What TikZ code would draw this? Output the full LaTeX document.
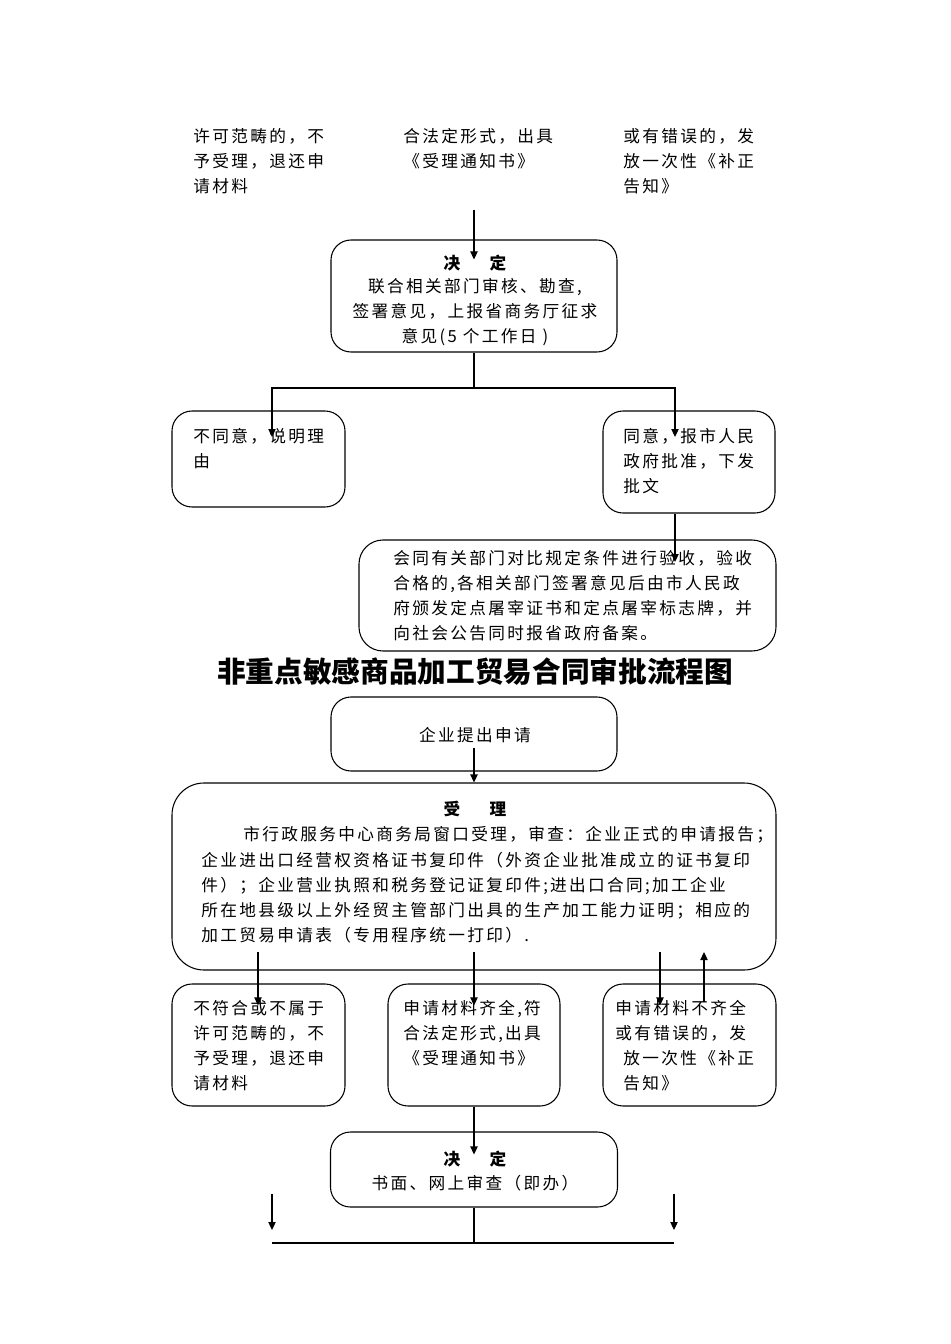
\documentclass[tikz,border=0pt]{standalone}
\usepackage{fontspec}
\usetikzlibrary{arrows.meta,calc}
\newfontfamily\cjk[LetterSpace=14]{Noto Sans CJK SC}
\newfontfamily\cjkt{Noto Sans CJK SC}
\newcommand\bodyfont{\cjk\fontsize{12.5}{18.75}\selectfont}
\newcommand\headfont{\cjkt\bfseries\fontsize{12.5}{18.75}\selectfont}
\tikzset{
  box/.style={draw, line width=0.8pt, rounded corners=15pt, inner sep=0pt},
  txt/.style={inner sep=0pt, align=left, anchor=north west, font=\bodyfont},
  ctxt/.style={inner sep=0pt, align=center, anchor=north, font=\bodyfont},
  hd/.style={inner sep=0pt, anchor=north, font=\headfont},
  arr/.style={line width=0.8pt, -{Triangle[length=6pt,width=5.5pt]}},
  ln/.style={line width=0.8pt}
}
\begin{document}
\begin{tikzpicture}[x=0.75pt,y=-0.75pt]
\useasboundingbox[fill=white] (0,0) rectangle (950,1344);

% ---- cut-off texts at top
\node[txt] (tl) at (193,128.5) {许可范畴的，不\\予受理，退还申\\请材料};
\node[txt] (tm) at (403,128.5) {合法定形式，出具\\《受理通知书》};
\node[txt] (tr) at (623,128.5) {或有错误的，发\\放一次性《补正\\告知》};

% ---- decision 1
\node[box, minimum width=286*0.75pt, minimum height=112*0.75pt] (B1) at (474,296) {};
\node[hd] (B1h) at (475,254.5) {决\hspace{22pt}定};
\node[ctxt] (B1t) at (475,278.5) {联合相关部门审核、勘查,\\签署意见，上报省商务厅征求\\意见(5 个工作日 )};

\node[box, minimum width=173*0.75pt, minimum height=96*0.75pt] (L1) at (258.5,459) {};
\node[txt] (L1t) at (193,428.5) {不同意，说明理\\由};
\node[box, minimum width=172*0.75pt, minimum height=102*0.75pt] (R1) at (689,462) {};
\node[txt] (R1t) at (623,428.5) {同意，报市人民\\政府批准，下发\\批文};

\node[box, rounded corners=18pt, minimum width=417*0.75pt, minimum height=111*0.75pt] (Bt) at (567.5,595.5) {};
\node[txt] (Btt) at (393,550.5) {会同有关部门对比规定条件进行验收，验收\\合格的,各相关部门签署意见后由市人民政\\府颁发定点屠宰证书和定点屠宰标志牌，并\\向社会公告同时报省政府备案。};

% ---- title
\node[inner sep=0pt, font=\cjkt\bfseries\fontsize{21.5}{25}\selectfont] (title) at (475,672) {非重点敏感商品加工贸易合同审批流程图};

% ---- second chart
\node[box, minimum width=286*0.75pt, minimum height=74*0.75pt] (Ap) at (474,734) {};
\node[inner sep=0pt, font=\cjk\fontsize{12.5}{18.75}\selectfont] (Apt) at (475,735) {企业提出申请};

\node[box, rounded corners=24pt, minimum width=604*0.75pt, minimum height=187*0.75pt] (Ac) at (474,876.5) {};
\node[hd] (Ach) at (475,800.5) {受\hspace{22pt}理};
\node[txt] (Ac1) at (243,826.5) {市行政服务中心商务局窗口受理，审查：企业正式的申请报告；};
\node[txt] (Ac2) at (201,851.5) {企业进出口经营权资格证书复印件（外资企业批准成立的证书复印\\件）；企业营业执照和税务登记证复印件;进出口合同;加工企业\\所在地县级以上外经贸主管部门出具的生产加工能力证明；相应的\\加工贸易申请表（专用程序统一打印）.};

\node[box, minimum width=173*0.75pt, minimum height=122*0.75pt] (L2) at (258.5,1045) {};
\node[txt] (L2t) at (193,1000.5) {不符合或不属于\\许可范畴的，不\\予受理，退还申\\请材料};
\node[box, minimum width=172*0.75pt, minimum height=122*0.75pt] (M2) at (474,1045) {};
\node[txt] (M2t) at (403,1000.5) {申请材料齐全,符\\合法定形式,出具\\《受理通知书》};
\node[box, minimum width=173*0.75pt, minimum height=122*0.75pt] (R2) at (689.5,1045) {};
\node[txt] (R2t) at (615,1000.5) {申请材料不齐全\\或有错误的，发};
\node[txt] (R2u) at (623,1050.5) {放一次性《补正\\告知》};

\node[box, minimum width=287*0.75pt, minimum height=75*0.75pt] (D2) at (474,1169.5) {};
\node[hd] (D2h) at (475,1150.5) {决\hspace{22pt}定};
\node[ctxt] (D2t) at (475,1174.5) {书面、网上审查（即办）};

% ---- connectors
\coordinate (tA) at (474,210);
\draw[arr] (tA) -- ($(B1.north)+(0,20)$);
\coordinate (j1) at (474,388);
\coordinate (tL1) at (272,437);
\coordinate (tR1) at (675,437);
\draw[ln] (B1.south) -- (j1);
\draw[arr] (j1) -| (tL1);
\draw[arr] (j1) -| (tR1);
\coordinate (tB) at (675,562);
\draw[arr] (tR1 |- R1.south) -- (tB);

\coordinate (aS) at (474,748);
\draw[arr] (aS) -- (Ac.north);
\coordinate (s1) at (258,952);
\coordinate (s2) at (474,952);
\coordinate (s3) at (660,952);
\coordinate (u1) at (704,1002);
\draw[arr] (s1) -- (s1 |- L2.north) -- ++(0,22);
\draw[arr] (s2) -- (s2 |- M2.north) -- ++(0,22);
\draw[arr] (s3) -- (s3 |- R2.north) -- ++(0,22);
\draw[arr] (u1) -- (u1 |- s3);

\draw[arr] (M2.south) -- ($(D2.north)+(0,23)$);
\coordinate (j2) at (474,1243);
\coordinate (jl) at (272,1243);
\coordinate (jr) at (674,1243);
\draw[ln] (D2.south) -- (j2);
\draw[ln] (jl) -- (jr);
\coordinate (al) at (272,1194);
\coordinate (ar) at (674,1194);
\draw[arr] (al) -- ($(jl)+(0,-13)$);
\draw[arr] (ar) -- ($(jr)+(0,-13)$);
\end{tikzpicture}
\end{document}
